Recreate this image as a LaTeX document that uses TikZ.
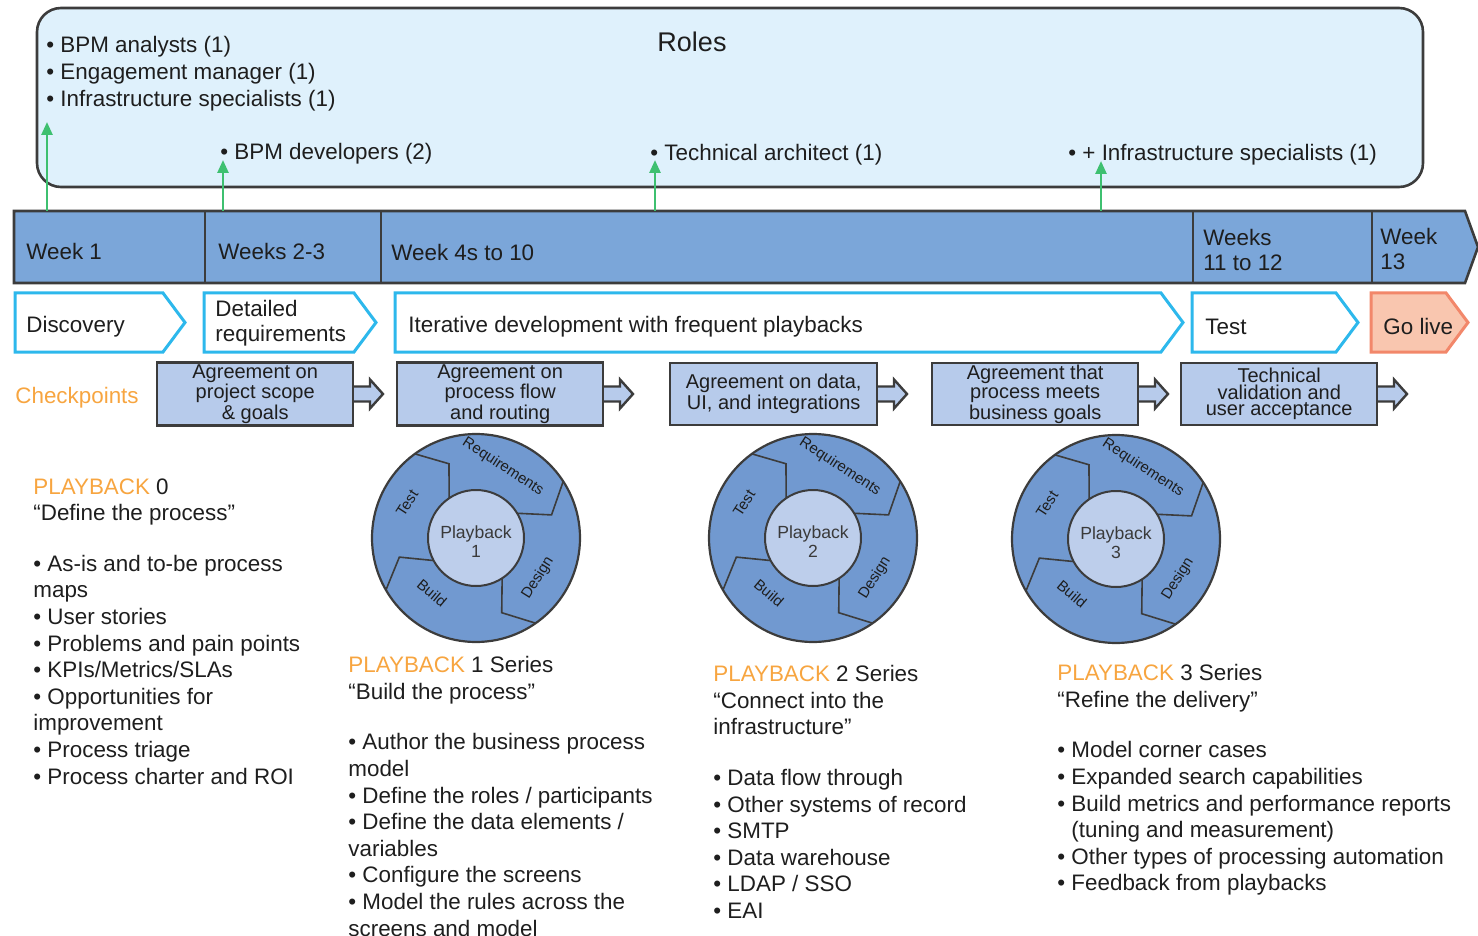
\documentclass[tikz,border=0pt]{standalone}
\usepackage{fontspec}
\setmainfont{Liberation Sans}
\usetikzlibrary{arrows.meta}
\definecolor{rolefill}{HTML}{DFF1FC}
\definecolor{edgecol}{HTML}{3C3C3C}
\definecolor{weekfill}{HTML}{7BA6D9}
\definecolor{cyanline}{HTML}{2DB8EC}
\definecolor{golivefill}{HTML}{F9C6AF}
\definecolor{goliveline}{HTML}{F2876A}
\definecolor{cpfill}{HTML}{B7CBEB}
\definecolor{orangetxt}{HTML}{F7A540}
\definecolor{ringfill}{HTML}{7199D0}
\definecolor{hubfill}{HTML}{BDCEEB}
\definecolor{greencol}{HTML}{3EC070}
\definecolor{txtcol}{HTML}{1E1E1E}
\definecolor{hubtxt}{HTML}{3A3A3A}

\tikzset{
  lbl/.style={inner sep=0pt, anchor=west, font=\fontsize{11.2}{12.5}\selectfont, text=txtcol},
  block/.style={inner sep=0pt, anchor=north west, align=left, font=\fontsize{11.2}{13.3}\selectfont, text=txtcol},
  chevron/.style={draw=cyanline, fill=white, line width=1.5pt, line join=miter},
  golive/.style={draw=goliveline, fill=golivefill, line width=1.5pt, line join=miter},
  cpbox/.style={draw=edgecol, fill=cpfill, line width=1.2pt, minimum height=31pt, inner sep=1pt, align=center, font=\fontsize{10}{8.3}\selectfont, text=txtcol},
  cparrow/.style={draw=edgecol, fill=cpfill, line width=1.2pt, line join=miter},
  greenarr/.style={draw=greencol, line width=1.3pt, -{Triangle[width=5.5pt,length=6.5pt]}},
  cycline/.style={draw=edgecol, line width=0.8pt},
  ringedge/.style={draw=edgecol, line width=1.1pt},
  hubedge/.style={draw=edgecol, line width=1pt, fill=hubfill},
  hubtext/.style={inner sep=0pt, align=center, font=\fontsize{8.8}{9.5}\selectfont, text=hubtxt},
  seglbl/.style={inner sep=0pt, font=\fontsize{7.5}{9}\selectfont, text=txtcol},
}

\newcommand\chevpath[3]{%
  \draw[#3] (#1,293) -- (#2-22,293) -- (#2,322.5) -- (#2-22,352) -- (#1,352) -- cycle;}

\newcommand\cpoint[4]{%
  \draw[cparrow] (#3,386.5) -- (#3+18,386.5) -- (#3+18,379.5) -- (#3+31,394) -- (#3+18,408.5) -- (#3+18,401.5) -- (#3,401.5);
  \node[cpbox, minimum width={(#3-#2)*0.5pt}, anchor=west] (#1) at (#2,394) {#4};}

\newcommand\playcycle[3]{%
  \begin{scope}[shift={(#1,#2)}, y=0.5pt]
    \fill[ringfill] (0,0) circle (104);
    \foreach \t in {126,33,-55,210}{
      \draw[cycline] (\t:104) -- (\t-16:79) -- (\t-2:48);
    }
    \draw[ringedge] (0,0) circle (104);
    \draw[hubedge] (0,0) circle (48);
    \node[hubtext] (hub#3) at (0,-4) {Playback\\#3};
    \node[seglbl, rotate=-33] (req#3) at (27,71) {Requirements};
    \node[seglbl, rotate=58] (des#3) at (62,-40) {Design};
    \node[seglbl, rotate=-40] (bld#3) at (-44,-55) {Build};
    \node[seglbl, rotate=57] (tst#3) at (-69,35) {Test};
  \end{scope}}

\begin{document}
\begin{tikzpicture}[x=0.5pt, y=-0.5pt]
\useasboundingbox (0,0) rectangle (1478,936);

% Roles box
\draw[draw=edgecol, fill=rolefill, line width=1.3pt, rounded corners=12pt] (37,8) rectangle (1423,187);
\node[font=\fontsize{13.5}{15}\selectfont, text=txtcol, inner sep=0pt] (roles) at (692,42) {Roles};
\node[lbl] (rol1) at (46,47) {• BPM analysts (1)};
\node[lbl] (rol2) at (46,74) {• Engagement manager (1)};
\node[lbl] (rol3) at (46,101) {• Infrastructure specialists (1)};
\node[lbl] (rol4) at (220,154) {• BPM developers (2)};
\node[lbl] (rol5) at (650,155) {• Technical architect (1)};
\node[lbl] (rol6) at (1068,155) {• + Infrastructure specialists (1)};

% Week bar
\draw[draw=edgecol, fill=weekfill, line width=1.3pt, line join=miter] (14,211) -- (1465,211) -- (1478,247) -- (1465,283) -- (14,283) -- cycle;
\foreach \xd in {205,381,1193,1372}{
  \draw[draw=edgecol, line width=1.1pt] (\xd,211) -- (\xd,283);
}
\node[lbl] (wk1) at (26,251) {Week 1};
\node[lbl] (wk23) at (218,251) {Weeks 2-3};
\node[lbl] (wk410) at (391,252) {Week 4s to 10};
\node[lbl, align=left] (wk1112) at (1203,250) {Weeks\\11 to 12};
\node[lbl, align=left] (wk13) at (1380,249) {Week\\13};

% Green arrows
\coordinate (ga1) at (47,211); \coordinate (gb1) at (47,122);
\coordinate (ga2) at (223,211); \coordinate (gb2) at (223,160);
\coordinate (ga3) at (655,211); \coordinate (gb3) at (655,160);
\coordinate (ga4) at (1101,211); \coordinate (gb4) at (1101,161);
\draw[greenarr] (ga1) -- (gb1);
\draw[greenarr] (ga2) -- (gb2);
\draw[greenarr] (ga3) -- (gb3);
\draw[greenarr] (ga4) -- (gb4);

% Phases
\chevpath{15}{185}{chevron}
\chevpath{204}{376}{chevron}
\chevpath{395}{1183}{chevron}
\chevpath{1192}{1358}{chevron}
\chevpath{1371}{1468}{golive}
\node[lbl] (phdisc) at (26,327) {Discovery};
\node[lbl, align=left] (phdet) at (215,323) {Detailed\\requirements};
\node[lbl] (phiter) at (408,327) {Iterative development with frequent playbacks};
\node[lbl] (phtest) at (1205,327) {Test};
\node[lbl] (phgo) at (1383,326) {Go live};

% Checkpoints
\node[lbl, text=orangetxt] (chk) at (15,398) {Checkpoints};
\cpoint{cp1}{156}{352}{Agreement on\\project scope\\\& goals}
\cpoint{cp2}{396}{602}{Agreement on\\process flow\\and routing}
\cpoint{cp3}{669}{876}{Agreement on data,\\UI, and integrations}
\cpoint{cp4}{931}{1137}{Agreement that\\process meets\\business goals}
\cpoint{cp5}{1180}{1376}{Technical\\validation and\\user acceptance}

% Cycles
\playcycle{476}{538}{1}
\playcycle{813}{538}{2}
\playcycle{1116}{539}{3}

% Text blocks
\node[block] (pb0) at (33,478) {{\color{orangetxt}PLAYBACK} 0\\
“Define the process”\\[12pt]
• As-is and to-be process\\
maps\\
• User stories\\
• Problems and pain points\\
• KPIs/Metrics/SLAs\\
• Opportunities for\\
improvement\\
• Process triage\\
• Process charter and ROI};

\node[block] (pb1) at (348,656) {{\color{orangetxt}PLAYBACK} 1 Series\\
“Build the process”\\[12pt]
• Author the business process\\
model\\
• Define the roles / participants\\
• Define the data elements /\\
variables\\
• Configure the screens\\
• Model the rules across the\\
screens and model};

\node[block] (pb2) at (713,665) {{\color{orangetxt}PLAYBACK} 2 Series\\
“Connect into the\\
infrastructure”\\[12pt]
• Data flow through\\
• Other systems of record\\
• SMTP\\
• Data warehouse\\
• LDAP / SSO\\
• EAI};

\node[block] (pb3) at (1057,664) {{\color{orangetxt}PLAYBACK} 3 Series\\
“Refine the delivery”\\[12pt]
• Model corner cases\\
• Expanded search capabilities\\
• Build metrics and performance reports\\
\phantom{• }(tuning and measurement)\\
• Other types of processing automation\\
• Feedback from playbacks};

\end{tikzpicture}
\end{document}
